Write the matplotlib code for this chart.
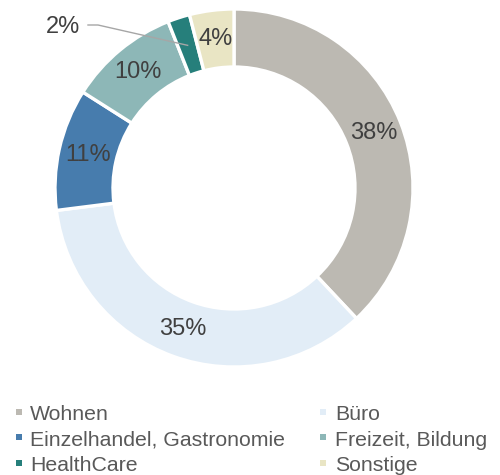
import matplotlib
matplotlib.use("Agg")
import matplotlib.pyplot as plt
from matplotlib.patches import Rectangle
import numpy as np

categories = ["Wohnen", "Büro", "Einzelhandel, Gastronomie", "Freizeit, Bildung", "HealthCare", "Sonstige"]
values = [38, 35, 11, 10, 2, 4]
colors = ["#BCB9B2", "#E2EDF7", "#477CAD", "#8DB7B7", "#267F7B", "#E9E5C4"]

W, H = 500, 475
plt.rcParams['font.family'] = ['Liberation Sans', 'DejaVu Sans']
fig = plt.figure(figsize=(W / 100, H / 100), dpi=100)

cx, cy, R = 234, 188, 179
ax = fig.add_axes([(cx - R) / W, (H - cy - R) / H, 2 * R / W, 2 * R / H])

inner = 121 / 179
width = 1 - inner
wedges, _ = ax.pie(values, colors=colors, startangle=90, counterclock=False,
                   radius=1, wedgeprops=dict(width=width, edgecolor="white", linewidth=2.4))
ax.set_xlim(-1, 1)
ax.set_ylim(-1, 1)
ax.set_aspect("auto")
ax.axis("off")

mid_r = (1 + inner) / 2
total = sum(values)
cum = 0
for v, w in zip(values, wedges):
    ang = np.deg2rad(90 - (cum + v / 2) / total * 360)
    cum += v
    x, y = mid_r * np.cos(ang), mid_r * np.sin(ang)
    label = f"{v}%"
    if v / total < 0.03:
        tx, ty = (63 - cx) / R, (cy - 27) / R
        ax.text(tx, ty, label, ha="center", va="center", fontsize=17, color="#404040")
        ax.plot([(88 - cx) / R, (98 - cx) / R, x], [(cy - 25) / R, (cy - 25) / R, y],
                color="#A6A6A6", lw=1, clip_on=False)
    else:
        ax.text(x, y, label, ha="center", va="center", fontsize=17, color="#404040")

# legend (row-major, two columns)
col_marker_x = [18.5, 322.5]
col_text_x = [30, 335]
row_base = [420, 445.5, 471]
for i, (name, c) in enumerate(zip(categories, colors)):
    r, col = divmod(i, 2)
    my = row_base[r] - 8.5
    fig.add_artist(Rectangle(((col_marker_x[col] - 3) / W, 1 - (my + 3) / H), 6 / W, 6 / H,
                             transform=fig.transFigure, facecolor=c, edgecolor="none"))
    fig.text(col_text_x[col] / W, 1 - row_base[r] / H, name, ha="left", va="baseline",
             fontsize=15.3, color="#595959")

fig.savefig("out.png", dpi=100, facecolor="white")
